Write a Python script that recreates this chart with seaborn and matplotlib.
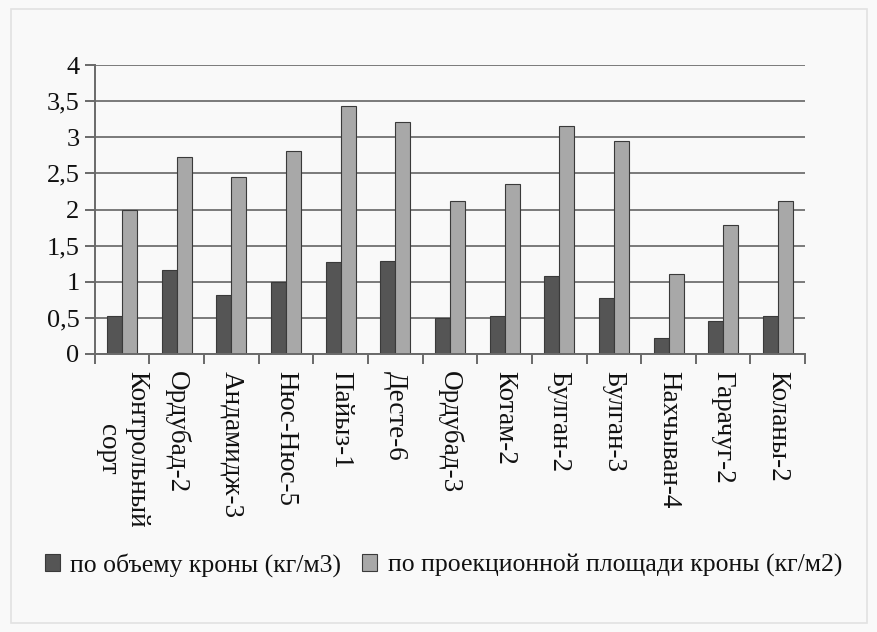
import numpy as np
import pandas as pd
import matplotlib
matplotlib.use("Agg")
import matplotlib.pyplot as plt
import seaborn as sns
from matplotlib.ticker import FuncFormatter, FixedLocator

categories = ["Контрольный\nсорт", "Ордубад-2", "Андамидж-3", "Нюс-Нюс-5", "Пайыз-1",
              "Десте-6", "Ордубад-3", "Котам-2", "Булган-2", "Булган-3",
              "Нахчыван-4", "Гарачуг-2", "Коланы-2"]
series_names = ["по объему кроны (кг/м3)", "по проекционной площади кроны (кг/м2)"]
by_volume = [0.52, 1.16, 0.82, 1.00, 1.27, 1.29, 0.50, 0.52, 1.08, 0.77, 0.22, 0.45, 0.52]
by_area = [1.99, 2.73, 2.45, 2.81, 3.43, 3.21, 2.12, 2.35, 3.16, 2.95, 1.11, 1.78, 2.12]
y_ticks = [0, 0.5, 1, 1.5, 2, 2.5, 3, 3.5, 4]

df = pd.DataFrame({
    "sort": categories * 2,
    "series": [series_names[0]] * len(categories) + [series_names[1]] * len(categories),
    "value": by_volume + by_area,
})

sns.set_theme(style="white")
plt.rcParams["font.family"] = ["Liberation Serif", "DejaVu Serif"]
bg = "#f9f9f9"

fig = plt.figure(figsize=(8.78, 6.32), dpi=100, facecolor=bg)
ax = fig.add_axes([0.108, 0.44, 0.809, 0.457])
ax.set_facecolor(bg)

sns.barplot(data=df, x="sort", y="value", hue="series", order=categories,
            hue_order=series_names, palette=["#555555", "#a8a8a8"],
            width=0.55, edgecolor="#3a3a3a", linewidth=0.8, ax=ax)

ax.set_ylim(0, 4)
ax.set_xlim(-0.5, len(categories) - 0.5)
ax.yaxis.set_major_locator(FixedLocator(y_ticks))
ax.yaxis.set_major_formatter(FuncFormatter(lambda v, p: f"{v:g}".replace(".", ",")))
ax.grid(axis="y", color="#7a7a7a", linewidth=1.4)
ax.set_axisbelow(True)
ax.set_xlabel("")
ax.set_ylabel("")

for s in ["top", "right"]:
    ax.spines[s].set_visible(False)
for s in ["left", "bottom"]:
    ax.spines[s].set_color("#6a6a6a")
    ax.spines[s].set_linewidth(1.4)

ax.tick_params(axis="y", left=True, length=7, width=1.4, color="#6a6a6a",
               labelsize=19, pad=4, labelcolor="#111111")
ax.set_xticks(np.arange(len(categories)))
ax.set_xticklabels(categories, rotation=-90, ha="center", va="top",
                   multialignment="center", fontsize=19.5, color="#111111",
                   linespacing=1.2)
ax.tick_params(axis="x", bottom=False, pad=6)
ax.set_xticks(np.arange(len(categories) + 1) - 0.5, minor=True)
ax.tick_params(axis="x", which="minor", bottom=True, length=7, width=1.4,
               color="#6a6a6a")

ax.get_legend().remove()
handles, labels = ax.get_legend_handles_labels()
leg = fig.legend(handles, labels, loc="center", bbox_to_anchor=(0.505, 0.106), ncol=2,
                 frameon=False, fontsize=18.5, handlelength=0.6, handleheight=0.6,
                 handletextpad=0.4, columnspacing=0.8, borderaxespad=0)
for t in leg.get_texts():
    t.set_color("#111111")

fig.patches.append(plt.Rectangle((0.012, 0.015), 0.975, 0.97, transform=fig.transFigure,
                                 fill=False, edgecolor="#e2e2e2", linewidth=1.2))

fig.savefig("out.png", dpi=100, facecolor=bg)
